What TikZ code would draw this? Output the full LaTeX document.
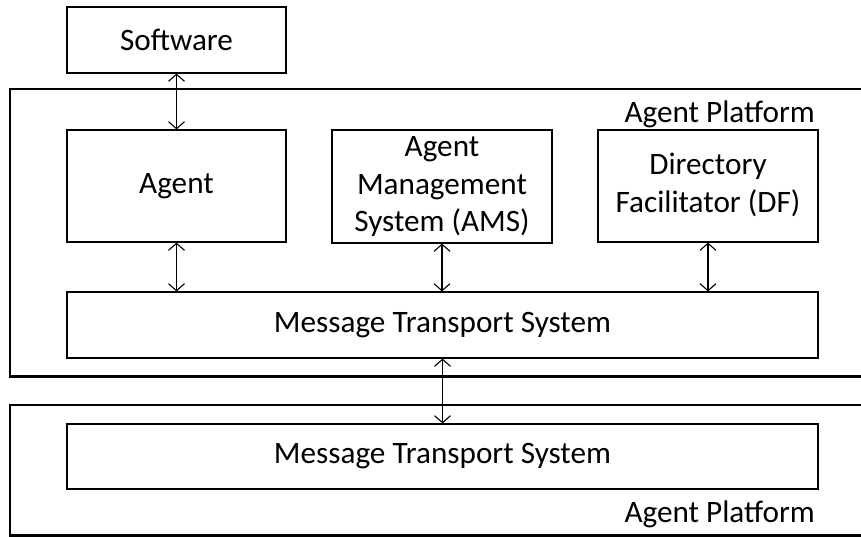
\documentclass[tikz,border=0pt]{standalone}
\usepackage{fontspec}
\setmainfont{Carlito}
\usetikzlibrary{arrows.meta}
\begin{document}
\begin{tikzpicture}[x=1pt,y=-1pt,
  box/.style={draw=black, line width=1.2pt, align=center, inner sep=0pt,
    font=\fontsize{31.2}{37.6}\selectfont},
  platform/.style={draw=black, line width=2.8pt},
  lbl/.style={inner sep=0pt, anchor=east, font=\fontsize{31.2}{37.6}\selectfont},
  link/.style={line width=1.1pt, {Straight Barb[length=7pt,width=16pt]}-{Straight Barb[length=7pt,width=16pt]}}
]
\useasboundingbox (0,0) rectangle (861,536);
\clip (0,0) rectangle (861,536);
\fill[white] (0,0) rectangle (861,536);
% platforms
\draw[platform] (10,89) rectangle (880,376.5);
\draw[platform] (10,405) rectangle (880,535.5);
\node[lbl] (ap1) at (815,114) {Agent Platform};
\node[lbl] (ap2) at (815,514) {Agent Platform};
% boxes
\node[box, minimum width=219pt, minimum height=66pt] (sw) at (176.5,40) {Software};
\node[box, minimum width=219pt, minimum height=112pt] (agent) at (176.5,186) {\raisebox{-2pt}{Agent}};
\node[box, minimum width=220pt, minimum height=113pt] (ams) at (442,186.5) {\raisebox{-2pt}{\begin{tabular}{@{}c@{}}Agent\\Management\\System (AMS)\end{tabular}}};
\node[box, minimum width=220pt, minimum height=112pt] (df) at (708,186) {\raisebox{-2pt}{\begin{tabular}{@{}c@{}}Directory\\Facilitator (DF)\end{tabular}}};
\node[box, minimum width=751pt, minimum height=66pt] (mts1) at (442.5,325) {Message Transport System};
\node[box, minimum width=751pt, minimum height=65pt] (mts2) at (442.5,456.5) {Message Transport System};
% links
\draw[link] (sw.south) -- (agent.north);
\draw[link] (agent.south) -- (agent.south |- mts1.north);
\draw[link] (ams.south) -- (ams.south |- mts1.north);
\draw[link] (df.south) -- (df.south |- mts1.north);
\draw[link] (mts1.south) -- (mts2.north);
\end{tikzpicture}
\end{document}
